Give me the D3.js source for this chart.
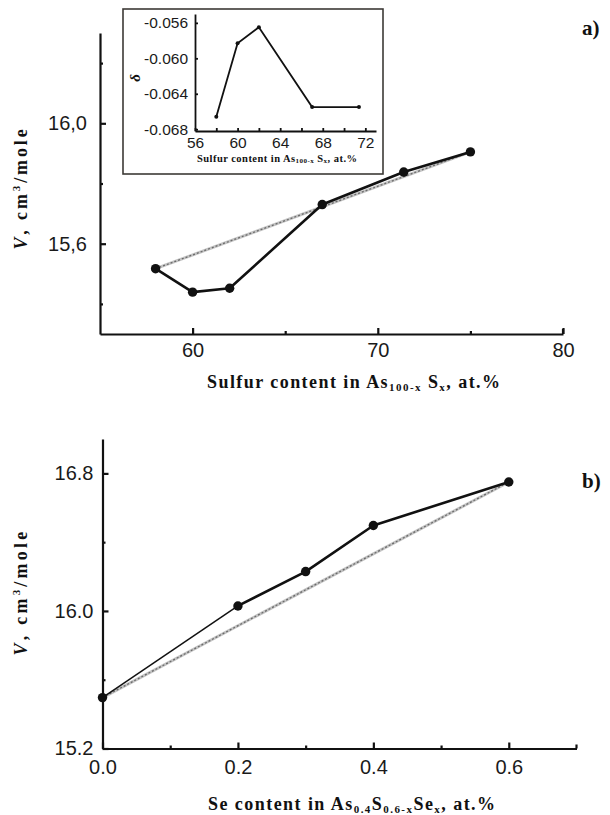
<!DOCTYPE html>
<html>
<head>
<meta charset="utf-8">
<script src="https://cdn.jsdelivr.net/npm/d3@7"></script>
<style>
  html, body { margin: 0; padding: 0; background: #fff; }
  svg { display: block; }
  .tick text { font-family: "Liberation Sans", Arial, sans-serif; fill: #1a1a1a; }
  .lbl { font-family: "Liberation Serif", "Times New Roman", serif; font-weight: bold; fill: #111; }
</style>
</head>
<body>
<svg id="chart" width="610" height="815"></svg>
<script>
// ---- data: (a) As100-xSx molar volume ----
const sulfurContent = [58, 60, 62, 67, 71.4, 75];
const molarVolumeA = [15.517, 15.439, 15.452, 15.730, 15.838, 15.905];
const ticksA_x = [60, 70, 80];
const minorA_x = [65, 75];
const ticksA_y = [15.6, 16.0];
const minorA_y = [15.4, 15.8, 16.2];

// ---- data: inset, deviation delta vs sulfur content ----
const insetSulfur = [58, 60, 62, 67, 71.4];
const insetDelta = [-0.0666, -0.0583, -0.0565, -0.0655, -0.0655];
const insetTicksX = [56, 60, 64, 68, 72];
const insetMinorX = [58, 62, 66, 70];
const insetTicksY = [-0.056, -0.060, -0.064, -0.068];

// ---- data: (b) As0.4S0.6-xSex molar volume ----
const seleniumContent = [0, 0.2, 0.3, 0.4, 0.6];
const molarVolumeB = [15.496, 16.029, 16.229, 16.497, 16.750];
const ticksB_x = [0, 0.2, 0.4, 0.6];
const minorB_x = [0.1, 0.3, 0.5];
const ticksB_y = [15.2, 16.0, 16.8];
const minorB_y = [15.6, 16.4];

const svg = d3.select("#chart");

// stretch letter spacing so a label spans the given width
function fitText(sel, width) {
  const node = sel.node();
  const natural = node.getComputedTextLength();
  const n = node.textContent.length;
  sel.attr("letter-spacing", Math.max(0, (width - natural) / (n - 1)));
}

function drawAxes(g, x, y, o) {
  const xAxis = g.append("g").attr("transform", `translate(0,${y.range()[0]})`)
    .call(d3.axisBottom(x).tickValues(o.xTicks).tickFormat(o.xFmt)
      .tickSizeInner(-o.major).tickSizeOuter(0).tickPadding(o.xPad));
  g.append("g").attr("transform", `translate(0,${y.range()[0]})`)
    .call(d3.axisBottom(x).tickValues(o.xMinor).tickFormat("")
      .tickSizeInner(-o.minor).tickSizeOuter(0))
    .call(s => s.select(".domain").remove());
  g.append("g").attr("transform", `translate(${x.range()[0]},0)`)
    .call(d3.axisLeft(y).tickValues(o.yTicks).tickFormat(o.yFmt)
      .tickSizeInner(-o.major).tickSizeOuter(0).tickPadding(o.yPad));
  g.append("g").attr("transform", `translate(${x.range()[0]},0)`)
    .call(d3.axisLeft(y).tickValues(o.yMinor).tickFormat("")
      .tickSizeInner(-o.minor).tickSizeOuter(0))
    .call(s => s.select(".domain").remove());
  g.selectAll(".domain").attr("stroke", "#111").attr("stroke-width", o.axisW);
  g.selectAll(".tick line").attr("stroke", "#111").attr("stroke-width", o.axisW);
  g.selectAll(".tick text").attr("font-size", o.fs);
  xAxis.selectAll(".tick text").attr("dy", o.xDy);
}

// straight additive reference between the end compositions
function refLine(g, x, y, xs, ys) {
  const a = [x(xs[0]), y(ys[0])], b = [x(xs[xs.length - 1]), y(ys[ys.length - 1])];
  g.append("line").attr("x1", a[0]).attr("y1", a[1]).attr("x2", b[0]).attr("y2", b[1])
    .attr("stroke", "#c4c4c4").attr("stroke-width", 3);
  g.append("line").attr("x1", a[0]).attr("y1", a[1]).attr("x2", b[0]).attr("y2", b[1])
    .attr("stroke", "#6a6a6a").attr("stroke-width", 1.3).attr("stroke-dasharray", "2,2");
}

function yLabel(x0, yCenter, len) {
  const t = svg.append("text").attr("class", "lbl").attr("font-size", 18)
    .attr("text-anchor", "middle")
    .attr("transform", `translate(${x0},${yCenter}) rotate(-90)`);
  t.append("tspan").attr("font-style", "italic").text("V");
  t.append("tspan").text(",  cm");
  t.append("tspan").attr("font-size", 11).attr("dy", -7).text("3");
  t.append("tspan").attr("dy", 7).text("/mole");
  fitText(t, len);
}

// ================= panel (a) =================
const gA = svg.append("g");
const xA = d3.scaleLinear().domain([55, 80]).range([100, 563]);
const yA = d3.scaleLinear().domain([15.3, 16.3]).range([334, 33]);
drawAxes(gA, xA, yA, {
  xTicks: ticksA_x, xMinor: minorA_x, yTicks: ticksA_y, yMinor: minorA_y,
  xFmt: d3.format("d"), yFmt: d => d3.format(".1f")(d).replace(".", ","),
  major: 6, minor: 3, axisW: 2.2, fs: 20, xPad: 6, yPad: 13, xDy: "0.85em"
});
gA.append("line").attr("x1", xA(80)).attr("x2", xA(80)).attr("y1", yA(15.3)).attr("y2", yA(15.3) - 5)
  .attr("stroke", "#111").attr("stroke-width", 2.2);
refLine(gA, xA, yA, sulfurContent, molarVolumeA);
gA.append("path").datum(sulfurContent.map((s, i) => [s, molarVolumeA[i]]))
  .attr("fill", "none").attr("stroke", "#111").attr("stroke-width", 2.6).attr("stroke-linejoin", "round")
  .attr("d", d3.line().x(d => xA(d[0])).y(d => yA(d[1])));
gA.selectAll("circle.pa").data(sulfurContent).join("circle").attr("class", "pa")
  .attr("cx", d => xA(d)).attr("cy", (d, i) => yA(molarVolumeA[i])).attr("r", 4.7).attr("fill", "#111");

// x label (a)
{
  const t = svg.append("text").attr("class", "lbl").attr("font-size", 18).attr("x", 207).attr("y", 388);
  t.append("tspan").text("Sulfur content in As");
  t.append("tspan").attr("font-size", 11).attr("dy", 3).text("100-x");
  t.append("tspan").attr("dy", -3).text(" S");
  t.append("tspan").attr("font-size", 11).attr("dy", 3).text("x");
  t.append("tspan").attr("dy", -3).text(", at.%");
  fitText(t, 293);
}
yLabel(27, 188, 123);
svg.append("text").attr("class", "lbl").attr("font-size", 21).attr("x", 582).attr("y", 35).text("a)");

// ---------- inset ----------
const gI = svg.append("g");
gI.append("rect").attr("x", 123).attr("y", 9).attr("width", 260).attr("height", 165)
  .attr("fill", "#fff").attr("stroke", "#3d3a36").attr("stroke-width", 1.6);
const xI = d3.scaleLinear().domain([56, 73]).range([195, 376]);
const yI = d3.scaleLinear().domain([-0.0682, -0.055]).range([131, 14]);
drawAxes(gI, xI, yI, {
  xTicks: insetTicksX, xMinor: insetMinorX, yTicks: insetTicksY, yMinor: [],
  xFmt: d3.format("d"), yFmt: d => d.toFixed(3),
  major: 3, minor: 3, axisW: 1.8, fs: 15.5, xPad: 4, yPad: 7, xDy: "0.85em"
});
gI.append("path").datum(insetSulfur.map((s, i) => [s, insetDelta[i]]))
  .attr("fill", "none").attr("stroke", "#111").attr("stroke-width", 1.8)
  .attr("d", d3.line().x(d => xI(d[0])).y(d => yI(d[1])));
gI.selectAll("circle.pi").data(insetSulfur).join("circle").attr("class", "pi")
  .attr("cx", d => xI(d)).attr("cy", (d, i) => yI(insetDelta[i])).attr("r", 2).attr("fill", "#111");
gI.append("text").attr("class", "lbl").attr("font-size", 15).attr("font-style", "italic")
  .attr("text-anchor", "middle").attr("transform", "translate(140,78) rotate(-90)").text("δ");
{
  const t = svg.append("text").attr("class", "lbl").attr("font-size", 10.5).attr("x", 197).attr("y", 161.5);
  t.append("tspan").text("Sulfur content in As");
  t.append("tspan").attr("font-size", 7).attr("dy", 1.5).text("100-x");
  t.append("tspan").attr("dy", -1.5).text(" S");
  t.append("tspan").attr("font-size", 7).attr("dy", 1.5).text("x");
  t.append("tspan").attr("dy", -1.5).text(", at.%");
  fitText(t, 160);
}

// ================= panel (b) =================
const gB = svg.append("g");
const xB = d3.scaleLinear().domain([0, 0.7]).range([102.5, 576.5]);
const yB = d3.scaleLinear().domain([15.2, 17.0]).range([748.5, 439]);
drawAxes(gB, xB, yB, {
  xTicks: ticksB_x, xMinor: minorB_x, yTicks: ticksB_y, yMinor: minorB_y,
  xFmt: d3.format(".1f"), yFmt: d3.format(".1f"),
  major: 6, minor: 3, axisW: 2.2, fs: 20, xPad: 8, yPad: 9, xDy: "0.85em"
});
gB.append("line").attr("x1", xB(0.7)).attr("x2", xB(0.7)).attr("y1", yB(15.2)).attr("y2", yB(15.2) - 4)
  .attr("stroke", "#111").attr("stroke-width", 2.2);
refLine(gB, xB, yB, seleniumContent, molarVolumeB);
const ptsB = seleniumContent.map((s, i) => [s, molarVolumeB[i]]);
const lineB = d3.line().x(d => xB(d[0])).y(d => yB(d[1]));
gB.append("path").datum(ptsB.slice(0, 2)).attr("fill", "none").attr("stroke", "#111")
  .attr("stroke-width", 1.5).attr("d", lineB);
gB.append("path").datum(ptsB.slice(1)).attr("fill", "none").attr("stroke", "#111")
  .attr("stroke-width", 2.6).attr("stroke-linejoin", "round").attr("d", lineB);
gB.selectAll("circle.pb").data(ptsB).join("circle").attr("class", "pb")
  .attr("cx", d => xB(d[0])).attr("cy", d => yB(d[1])).attr("r", 4.7).attr("fill", "#111");

{
  const t = svg.append("text").attr("class", "lbl").attr("font-size", 18).attr("x", 208).attr("y", 810);
  t.append("tspan").text("Se content in As");
  t.append("tspan").attr("font-size", 11).attr("dy", 3).text("0.4");
  t.append("tspan").attr("dy", -3).text("S");
  t.append("tspan").attr("font-size", 11).attr("dy", 3).text("0.6-x");
  t.append("tspan").attr("dy", -3).text("Se");
  t.append("tspan").attr("font-size", 11).attr("dy", 3).text("x");
  t.append("tspan").attr("dy", -3).text(", at.%");
  fitText(t, 287);
}
yLabel(27, 592, 127);
svg.append("text").attr("class", "lbl").attr("font-size", 21).attr("x", 582).attr("y", 488).text("b)");
</script>
</body>
</html>
